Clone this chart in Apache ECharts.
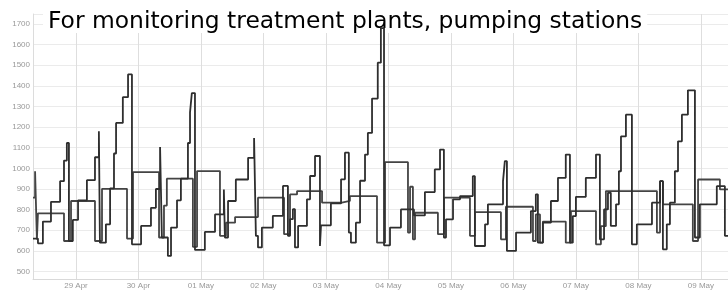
<!DOCTYPE html>
<html>
<head>
<meta charset="utf-8">
<script src="https://cdn.jsdelivr.net/npm/echarts@6/dist/echarts.min.js"></script>
<style>
  html, body { margin: 0; padding: 0; background: #fff; }
  #chart { width: 728px; height: 290px; }
</style>
</head>
<body>
<div id="chart"></div>
<script>
// hours counted from 28 Apr 00:00 (UTC)
const startDay = Date.UTC(2013, 3, 28);
const HOUR = 3600 * 1000;
const DAY = 24 * HOUR;
const monthNames = ['Jan', 'Feb', 'Mar', 'Apr', 'May', 'Jun', 'Jul', 'Aug', 'Sep', 'Oct', 'Nov', 'Dec'];

const axisStartHour = 7.5;
const axisEndHour = 274.4;
const yMin = 464;
const yMax = 1748;

// series with the daily ramp-up peaks
const hoursA = [7.5, 9.4, 11.3, 14.4, 17.9, 19.4, 20.5, 21.3, 22.8, 24.8, 28.2, 31.3, 32.8, 33.2, 35.5, 37.1,
  38.6, 39.4, 42.0, 44.0, 45.5, 49.0, 52.8, 54.7, 56.3, 57.0, 59.3, 60.5, 62.8, 64.3, 67.0, 67.8, 68.5,
  69.7, 73.5, 77.4, 80.8, 81.2, 82.4, 85.4, 90.1, 92.4, 93.1, 93.9, 95.4, 99.6, 103.5, 105.4, 106.2,
  107.3, 108.1, 109.3, 112.7, 113.9, 115.8, 117.7, 118.1, 121.9, 125.8, 127.3, 128.8, 129.6, 131.5,
  133.1, 135.0, 136.1, 137.7, 139.9, 141.1, 142.3, 144.6, 148.8, 153.8, 158.0, 161.8, 163.8, 165.3,
  166.1, 168.8, 171.5, 176.4, 177.2, 181.1, 182.2, 188.0, 188.7, 189.5, 193.0, 198.7, 200.6, 201.4,
  203.3, 206.4, 209.1, 212.1, 213.7, 214.8, 216.0, 219.8, 223.7, 225.2, 226.8, 228.3, 229.4, 231.4,
  232.5, 233.3, 235.2, 237.5, 239.4, 245.2, 248.3, 249.4, 250.9, 252.1, 254.0, 255.2, 256.7, 259.0,
  261.7, 263.6, 270.1, 273.2, 274.4];
const valuesA = [660, 637, 742, 838, 938, 1038, 1123, 648, 750, 845, 943, 1054, 1180, 640, 729, 903,
  1072, 1220, 1345, 1455, 632, 721, 809, 900, 1104, 665, 576, 713, 845, 950, 1123, 1271, 1365,
  605, 692, 777, 898, 665, 842, 946, 1051, 1147, 673, 617, 713, 770, 915, 673, 754,
  802, 617, 721, 850, 963, 1060, 624, 724, 830, 947, 1076, 689, 640, 737,
  940, 1067, 1172, 1338, 1512, 1680, 627, 713, 801, 772, 885, 995, 1091, 665,
  753, 850, 866, 962, 624, 729, 826, 938, 1035, 600, 689, 793, 874, 640,
  737, 842, 954, 1067, 640, 769, 862, 954, 1067, 656, 801, 882, 721, 826,
  986, 1155, 1260, 632, 729, 834, 938, 608, 729, 834, 986, 1131, 1260, 1378,
  665, 826, 914, 673, 673];

// series with the long plateaus
const hoursB = [7.5, 8.3, 9.0, 9.4, 19.4, 22.1, 31.3, 34.0, 43.6, 45.9, 55.9, 57.8, 58.9, 68.9, 70.5,
  79.3, 81.6, 85.1, 93.9, 103.9, 106.2, 108.9, 118.5, 126.1, 129.2, 139.6, 142.7, 151.5, 152.3, 153.4,
  154.2, 163.0, 165.3, 175.3, 177.2, 187.2, 189.1, 199.5, 200.6, 202.2, 203.3, 212.1, 214.1, 223.7,
  225.6, 227.5, 247.1, 248.3, 249.4, 260.9, 262.9, 271.3, 274.4];
const valuesB = [858, 986, 656, 782, 648, 842, 648, 901, 660, 982, 665, 820, 950, 620, 987,
  673, 737, 764, 858, 681, 874, 890, 834, 842, 866, 640, 1030, 689, 911, 656,
  785, 681, 858, 673, 788, 656, 814, 648, 777, 640, 742, 640, 793, 632,
  720, 890, 689, 938, 826, 648, 946, 898, 898];

const toPoints = (hours, values) => hours.map((h, i) => [startDay + h * HOUR, values[i]]);

const chart = echarts.init(document.getElementById('chart'));
const option = {
  animation: false,
  useUTC: true,
  title: {
    text: 'For monitoring treatment plants, pumping stations',
    left: 43,
    top: 9,
    padding: [1, 5, 0, 5],
    backgroundColor: '#fff',
    z: 1,
    textStyle: {
      fontFamily: 'DejaVu Sans',
      fontSize: 23.4,
      fontWeight: 'normal',
      color: '#000'
    }
  },
  grid: { left: 33, right: 0, top: 14, bottom: 10 },
  xAxis: {
    type: 'time',
    min: startDay + axisStartHour * HOUR,
    max: startDay + axisEndHour * HOUR,
    splitNumber: 11,
    minInterval: DAY,
    maxInterval: DAY,
    axisLine: { lineStyle: { color: '#d9d9d9' } },
    axisTick: { show: false },
    axisLabel: {
      fontFamily: 'Liberation Sans',
      fontSize: 8,
      color: '#999',
      margin: 3,
      formatter: (val) => {
        const d = new Date(val);
        if (d.getUTCHours() !== 0 || d.getUTCMinutes() !== 0) return '';
        return String(d.getUTCDate()).padStart(2, '0') + ' ' + monthNames[d.getUTCMonth()];
      }
    },
    splitLine: { show: true, lineStyle: { color: '#dedede' } }
  },
  yAxis: {
    type: 'value',
    min: yMin,
    max: yMax,
    splitNumber: 13,
    minInterval: 100,
    maxInterval: 100,
    axisLine: { show: true, lineStyle: { color: '#dcdcdc' } },
    axisTick: { show: false },
    axisLabel: {
      fontFamily: 'Liberation Sans',
      fontSize: 8,
      color: '#999',
      margin: 3,
      showMinLabel: false,
      showMaxLabel: false,
      formatter: (val) => String(val)
    },
    splitLine: { lineStyle: { color: '#ebebeb' } }
  },
  series: [
    {
      type: 'line',
      step: 'end',
      symbol: 'none',
      z: 3,
      lineStyle: { color: '#2e2e2e', width: 1.8 },
      data: toPoints(hoursA, valuesA)
    },
    {
      type: 'line',
      step: 'end',
      symbol: 'none',
      z: 2,
      lineStyle: { color: '#444', width: 1.8 },
      data: toPoints(hoursB, valuesB)
    }
  ]
};
chart.setOption(option);
</script>
</body>
</html>
